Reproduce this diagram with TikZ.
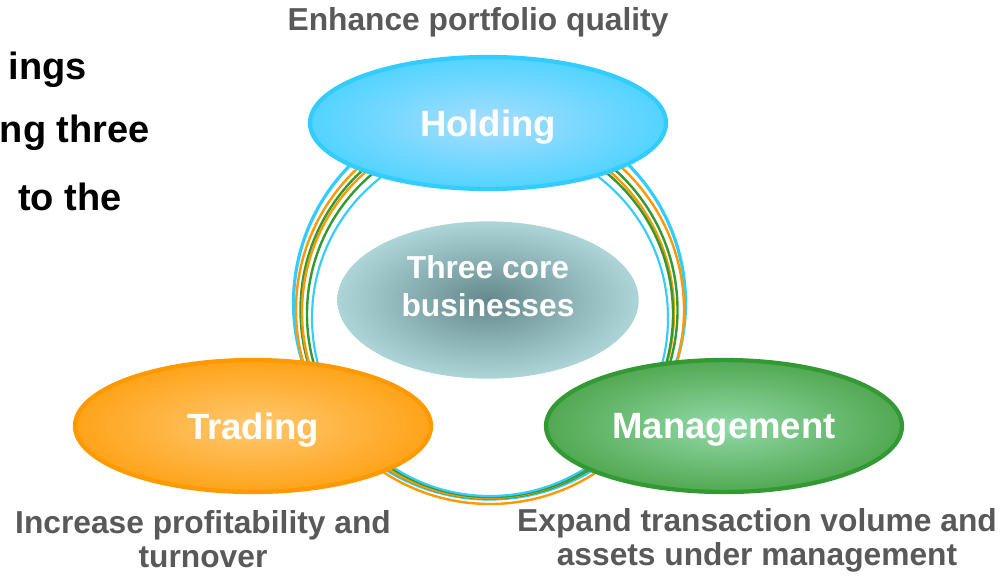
\documentclass[tikz,border=0pt]{standalone}
\usepackage{fontspec}
\setmainfont{Liberation Sans}
\usetikzlibrary{shapes.geometric}
\definecolor{hcyan}{HTML}{33CCFF}
\definecolor{hcyanin}{HTML}{A8DDFF}
\definecolor{torange}{HTML}{FF9900}
\definecolor{torangein}{HTML}{FFC870}
\definecolor{mgreen}{HTML}{339933}
\definecolor{mgreenin}{HTML}{92D9A8}
\definecolor{cdark}{HTML}{64898C}
\definecolor{clight}{HTML}{ADD5D7}
\definecolor{graytext}{HTML}{595959}
\tikzset{
  bigell/.style={ellipse, inner sep=0pt, minimum width=267pt, minimum height=99pt,
    line width=3.2pt, text=white, text depth=0pt,
    font=\fontsize{27.4}{30}\selectfont\bfseries},
  caption/.style={text=graytext, align=center, inner sep=0pt,
    font=\fontsize{23.8}{25.5}\selectfont\bfseries},
  lefttext/.style={anchor=east, inner sep=0pt, text=black,
    font=\fontsize{28.5}{30}\selectfont\bfseries},
  ringc/.style={draw=hcyan, line width=2.4pt},
  ringo/.style={draw=torange, line width=1.8pt},
  ringg/.style={draw=mgreen, line width=1.8pt}
}
\begin{document}
\begin{tikzpicture}[x=0.75pt,y=-0.75pt]
\useasboundingbox (0,0) rectangle (1005,575);
% ring
\draw[ringc] (489.5,303) circle [radius=196];
\draw[ringo] (490,310) circle [radius=194];
\draw[ringg] (489,310) circle [radius=188.5];
\draw[ringo] (488,312) circle [radius=186];
\draw[ringg] (490,314) circle [radius=183];
\draw[ringc, line width=1.6pt] (490,318) circle [radius=178];
% center
\node[ellipse, inner sep=0pt, minimum width=226pt, minimum height=118pt,
  inner color=cdark, outer color=clight] (core) at (488,300) {};
\node[text=white, align=center, inner sep=0pt,
  font=\fontsize{23.8}{28.5}\selectfont\bfseries] (coretext) at (488,286)
  {Three core\\businesses};
% main ellipses
\node[bigell, draw=hcyan, inner color=hcyanin, outer color=hcyan!85] (hold) at (488,123) {Holding};
\node[bigell, draw=torange, inner color=torangein, outer color=torange!90] (trade) at (253,426) {Trading};
\node[bigell, draw=mgreen, inner color=mgreenin, outer color=mgreen!85!white] (mgmt) at (724,426) {Management};
% captions
\node[caption] (capH) at (478,22) {Enhance portfolio quality};
\node[caption] (capT) at (203,539) {Increase profitability and\\turnover};
\node[caption] (capM) at (757,540) {Expand transaction volume and\\assets under management};
% left clipped text
\node[lefttext] (l1) at (87,70) {ings};
\node[lefttext] (l2) at (150,133) {ng three};
\node[lefttext] (l3) at (122,197) {to the};
\end{tikzpicture}
\end{document}
